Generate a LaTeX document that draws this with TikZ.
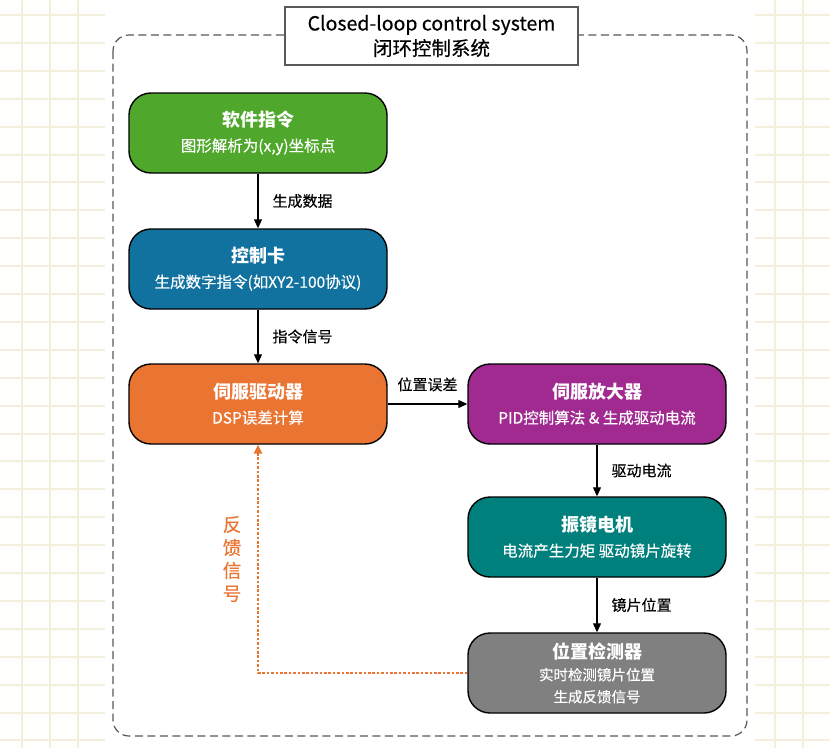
\documentclass[tikz,border=0pt]{standalone}
\usepackage{fontspec}
\setmainfont{Noto Sans CJK SC}[UprightFeatures={FakeBold=0.35}]
\usetikzlibrary{arrows.meta}

\definecolor{softgreen}{HTML}{4FA82B}
\definecolor{cardblue}{HTML}{1172A0}
\definecolor{drvorange}{HTML}{EA7432}
\definecolor{ampviolet}{HTML}{A02A90}
\definecolor{motorteal}{HTML}{00807C}
\definecolor{sensgray}{HTML}{808080}
\definecolor{gridcream}{HTML}{F4EFDC}

\begin{document}
\begin{tikzpicture}[x=1pt, y=-1pt,
    block/.style={draw=black, line width=1.4pt, rounded corners=22pt, minimum width=258pt,
        minimum height=80pt, text=white, align=center, font=\fontsize{15.5}{25}\selectfont},
    flow/.style={-{Triangle[length=9pt,width=8pt]}, line width=1.1pt},
    lbl/.style={font=\fontsize{15}{16}\selectfont, inner sep=0pt},
    feedback/.style={-{Triangle[length=9pt,width=8pt]}, drvorange, line width=2.3pt, dash pattern=on 2.6pt off 1.8pt}]
    \useasboundingbox (0,0) rectangle (830,748);
    % background grid at the sides
    \fill[white!70!gridcream!20] (0,0) rectangle (830,748);
    \foreach \gx in {22,49.9,...,830} \draw[gridcream, line width=2pt] (\gx,0) -- (\gx,748);
    \foreach \gy in {15,42.9,...,748} \draw[gridcream, line width=2pt] (0,\gy) -- (830,\gy);
    \fill[white] (105,0) rectangle (755,748);
    % container
    \draw[black!65, line width=1.2pt, dash pattern=on 8pt off 4.5pt, rounded corners=16pt] (113,35) rectangle (747,736);
    \node[draw=black!65, fill=white, line width=1.2pt, minimum width=293pt, minimum height=58pt, align=center,
        font=\fontsize{19.5}{25}\selectfont] (title) at (431.5,36) {Closed-loop control system\\闭环控制系统};
    % blocks
    \node[block, fill=softgreen] (soft) at (258,133) {\textbf{\fontsize{18}{20}\selectfont 软件指令}\\图形解析为(x,y)坐标点};
    \node[block, fill=cardblue] (card) at (258,269) {\textbf{\fontsize{18}{20}\selectfont 控制卡}\\生成数字指令(如XY2-100协议)};
    \node[block, fill=drvorange] (servo) at (258,404) {\textbf{\fontsize{18}{20}\selectfont 伺服驱动器}\\DSP误差计算};
    \node[block, fill=ampviolet] (amp) at (597,404) {\textbf{\fontsize{18}{20}\selectfont 伺服放大器}\\PID控制算法 \& 生成驱动电流};
    \node[block, fill=motorteal] (motor) at (597,537) {\textbf{\fontsize{18}{20}\selectfont 振镜电机}\\电流产生力矩 驱动镜片旋转};
    \node[block, fill=sensgray, font=\fontsize{14.5}{22}\selectfont] (sensor) at (597,673)
        {\textbf{\fontsize{18}{20}\selectfont 位置检测器}\\实时检测镜片位置\\生成反馈信号};
    % connectors
    \draw[flow] (soft) -- node[lbl, right=14pt] {生成数据} (card);
    \draw[flow] (card) -- node[lbl, right=14pt] {指令信号} (servo);
    \draw[flow] (servo) -- node[lbl, above=12pt] {位置误差} (amp);
    \draw[flow] (amp) -- node[lbl, right=14pt] {驱动电流} (motor);
    \draw[flow] (motor) -- node[lbl, right=14pt] {镜片位置} (sensor);
    \draw[feedback] (sensor.west) -| (servo.south);
    \node[text=drvorange, align=center, font=\fontsize{18.5}{23}\selectfont] (fblbl) at (232,559) {反\\馈\\信\\号};
\end{tikzpicture}
\end{document}
